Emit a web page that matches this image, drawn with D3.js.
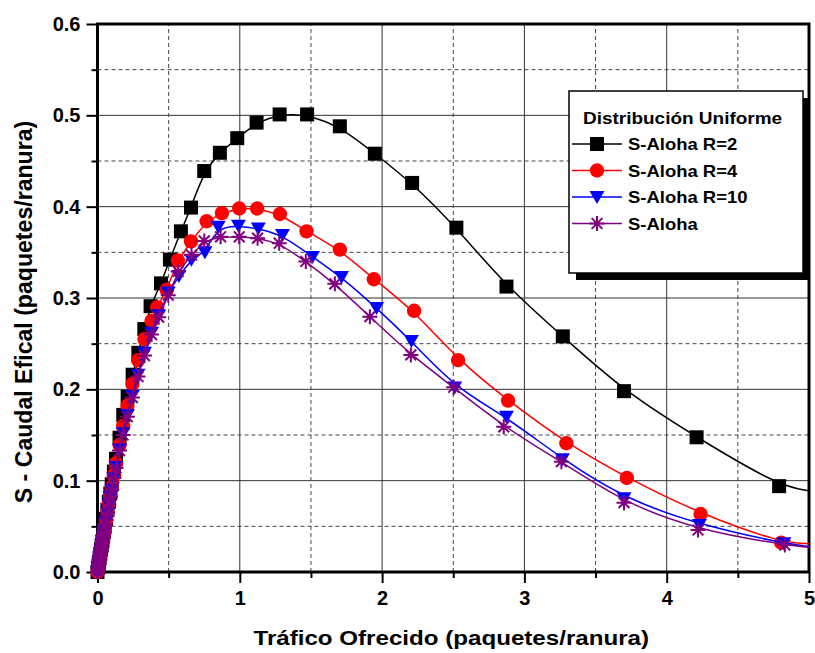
<!DOCTYPE html>
<html>
<head>
<meta charset="utf-8">
<script src="https://cdn.jsdelivr.net/npm/d3@7"></script>
<style>
  body { margin: 0; background: #fff; }
  text { font-family: Arial, "Liberation Sans", sans-serif; font-weight: bold; fill: #000; }
</style>
</head>
<body>
<svg id="chart" width="815" height="653"></svg>
<script>
// data: [G, S]
const serieR2 = [
  [0,0],[0.005,0.005],[0.01,0.01],[0.015,0.015],[0.02,0.02],[0.025,0.025],[0.03,0.029],
  [0.035,0.034],[0.04,0.039],[0.045,0.044],[0.05,0.049],[0.06,0.058],[0.07,0.068],
  [0.08,0.077],[0.09,0.086],[0.1,0.096],[0.115,0.11],[0.13,0.124],[0.155,0.147],
  [0.181,0.172],[0.212,0.192],[0.247,0.216],[0.287,0.24],[0.329,0.266],[0.373,0.291],
  [0.446,0.316],[0.509,0.342],[0.586,0.373],[0.657,0.399],[0.75,0.439],[0.86,0.459],
  [0.982,0.475],[1.118,0.492],[1.28,0.501],[1.473,0.501],[1.703,0.488],[1.949,0.458],
  [2.211,0.426],[2.522,0.377],[2.874,0.3125],[3.27,0.258],[3.7,0.198],[4.21,0.1475],[4.79,0.094]
];
const serieR4 = [
  [0,0],[0.005,0.005],[0.01,0.01],[0.015,0.015],[0.02,0.02],[0.025,0.024],[0.03,0.029],
  [0.035,0.034],[0.04,0.038],[0.045,0.043],[0.05,0.048],[0.06,0.057],[0.07,0.066],
  [0.08,0.075],[0.09,0.084],[0.1,0.093],[0.115,0.106],[0.13,0.119],[0.155,0.139],
  [0.18,0.16],[0.21,0.182],[0.245,0.206],[0.285,0.232],[0.33,0.255],[0.38,0.275],
  [0.42,0.29],[0.486,0.309],[0.565,0.341],[0.657,0.362],[0.767,0.384],[0.874,0.393],
  [0.996,0.398],[1.122,0.398],[1.282,0.392],[1.469,0.373],[1.703,0.353],[1.942,0.3205],
  [2.225,0.286],[2.534,0.232],[2.885,0.1877],[3.295,0.141],[3.72,0.103],[4.238,0.0635],[4.805,0.032]
];
const serieR10 = [
  [0,0],[0.004,0.004],[0.008,0.008],[0.012,0.012],[0.016,0.016],[0.02,0.02],[0.025,0.024],
  [0.03,0.029],[0.035,0.034],[0.04,0.038],[0.045,0.043],[0.05,0.047],[0.06,0.056],
  [0.07,0.065],[0.08,0.074],[0.09,0.082],[0.1,0.09],[0.115,0.103],[0.13,0.115],
  [0.155,0.134],[0.18,0.152],[0.21,0.172],[0.245,0.193],[0.285,0.216],[0.33,0.24],
  [0.38,0.262],[0.43,0.281],[0.497,0.306],[0.572,0.324],[0.66,0.342],[0.755,0.35],
  [0.848,0.378],[0.99,0.379],[1.13,0.376],[1.3,0.369],[1.511,0.345],[1.715,0.323],
  [1.961,0.289],[2.206,0.253],[2.51,0.202],[2.874,0.17],[3.267,0.1234],[3.7,0.0807],
  [4.23,0.0515],[4.823,0.0314]
];
const serieAloha = [
  [0,0],[0.003,0.003],[0.006,0.006],[0.009,0.009],[0.012,0.012],[0.015,0.015],[0.018,0.018],
  [0.021,0.021],[0.024,0.023],[0.027,0.026],[0.03,0.029],[0.034,0.033],[0.038,0.037],
  [0.042,0.04],[0.046,0.044],[0.05,0.048],[0.055,0.052],[0.06,0.057],[0.07,0.065],
  [0.08,0.074],[0.09,0.082],[0.1,0.09],[0.115,0.103],[0.13,0.114],[0.155,0.133],
  [0.18,0.15],[0.21,0.17],[0.245,0.191],[0.285,0.214],[0.33,0.237],[0.38,0.26],
  [0.43,0.279],[0.497,0.303],[0.567,0.329],[0.661,0.347],[0.75,0.3625],[0.865,0.367],
  [0.996,0.367],[1.125,0.3655],[1.277,0.36],[1.464,0.34],[1.668,0.3155],[1.914,0.2796],
  [2.202,0.2377],[2.503,0.2023],[2.855,0.159],[3.26,0.1208],[3.7,0.0759],[4.22,0.046],[4.83,0.0296]
];
// where each fitted curve meets the right border (G = 5)
const curveEnds = [0.089, 0.031, 0.028, 0.027];

const seriesNames = ['S-Aloha R=2', 'S-Aloha R=4', 'S-Aloha R=10', 'S-Aloha'];
const seriesColors = ['#000000', '#ff0000', '#0000ff', '#800080'];
const seriesSymbols = ['square', 'circle', 'triangle', 'star'];
const seriesData = [serieR2, serieR4, serieR10, serieAloha];

const xMajor = [0, 1, 2, 3, 4, 5];
const xMinor = [0.5, 1.5, 2.5, 3.5, 4.5];
const yMajor = [0, 0.1, 0.2, 0.3, 0.4, 0.5, 0.6];
const yMinor = [0.05, 0.15, 0.25, 0.35, 0.45, 0.55];

const svg = d3.select('#chart');
const margin = { left: 97.5, right: 6, top: 24, bottom: 81 };
const W = 815, H = 653;

const x = d3.scaleLinear().domain([0, 5]).range([margin.left, W - margin.right]);
const y = d3.scaleLinear().domain([0, 0.6]).range([H - margin.bottom, margin.top]);

// grid
const grid = svg.append('g');
grid.selectAll('.vmaj').data(xMajor.slice(1, -1)).enter().append('line')
  .attr('x1', d => x(d)).attr('x2', d => x(d))
  .attr('y1', y(0)).attr('y2', y(0.6))
  .attr('stroke', '#333').attr('stroke-width', 1);
grid.selectAll('.hmaj').data(yMajor.slice(1, -1)).enter().append('line')
  .attr('x1', x(0)).attr('x2', x(5))
  .attr('y1', d => y(d)).attr('y2', d => y(d))
  .attr('stroke', '#333').attr('stroke-width', 1);
grid.selectAll('.vmin').data(xMinor).enter().append('line')
  .attr('x1', d => x(d)).attr('x2', d => x(d))
  .attr('y1', y(0)).attr('y2', y(0.6))
  .attr('stroke', '#444').attr('stroke-width', 1).attr('stroke-dasharray', '4,3');
grid.selectAll('.hmin').data(yMinor).enter().append('line')
  .attr('x1', x(0)).attr('x2', x(5))
  .attr('y1', d => y(d)).attr('y2', d => y(d))
  .attr('stroke', '#444').attr('stroke-width', 1).attr('stroke-dasharray', '4,3');

// axes
const xAxis = svg.append('g').attr('transform', `translate(0,${y(0)})`)
  .call(d3.axisBottom(x).tickValues(xMajor).tickFormat(d3.format('d')).tickSize(11).tickPadding(8));
const yAxis = svg.append('g').attr('transform', `translate(${x(0)},0)`)
  .call(d3.axisLeft(y).tickValues(yMajor).tickFormat(d3.format('.1f')).tickSize(11).tickPadding(6));
[xAxis, yAxis].forEach(a => {
  a.select('.domain').remove();
  a.selectAll('line').attr('stroke', '#000').attr('stroke-width', 2);
  a.selectAll('text').attr('font-size', 20).attr('font-family', 'Arial, "Liberation Sans", sans-serif')
    .attr('font-weight', 'bold');
});
svg.append('g').attr('transform', `translate(0,${y(0)})`)
  .call(d3.axisBottom(x).tickValues(xMinor).tickFormat('').tickSize(6))
  .call(g => g.select('.domain').remove())
  .selectAll('line').attr('stroke', '#000').attr('stroke-width', 2);
svg.append('g').attr('transform', `translate(${x(0)},0)`)
  .call(d3.axisLeft(y).tickValues(yMinor).tickFormat('').tickSize(6))
  .call(g => g.select('.domain').remove())
  .selectAll('line').attr('stroke', '#000').attr('stroke-width', 2);

// frame
svg.append('rect')
  .attr('x', x(0)).attr('y', y(0.6))
  .attr('width', x(5) - x(0)).attr('height', y(0) - y(0.6))
  .attr('fill', 'none').attr('stroke', '#000').attr('stroke-width', 3);

// axis titles (the reference type is a little wider than it is tall)
svg.append('text')
  .attr('transform', `translate(${(x(0) + x(5)) / 2 - 2},645) scale(1.15,1)`)
  .attr('text-anchor', 'middle').attr('font-size', 21)
  .text('Tráfico Ofrecido (paquetes/ranura)');
svg.append('text')
  .attr('transform', `translate(32,312) rotate(-90) scale(1.1,1.1)`)
  .attr('text-anchor', 'middle').attr('font-size', 21)
  .text('S - Caudal Efical (paquetes/ranura)');

// markers
function drawSymbol(g, type, color, cx, cy) {
  if (type === 'square') {
    g.append('rect').attr('x', cx - 7).attr('y', cy - 7).attr('width', 14).attr('height', 14)
      .attr('fill', color);
  } else if (type === 'circle') {
    g.append('circle').attr('cx', cx).attr('cy', cy).attr('r', 7.2).attr('fill', color);
  } else if (type === 'triangle') {
    g.append('path').attr('d', `M${cx - 7.5},${cy - 6}L${cx + 7.5},${cy - 6}L${cx},${cy + 7}Z`)
      .attr('fill', color);
  } else {
    const r = 7.5, d = r * 0.72;
    g.append('path')
      .attr('d', `M${cx},${cy - r}L${cx},${cy + r}M${cx - r},${cy}L${cx + r},${cy}` +
        `M${cx - d},${cy - d}L${cx + d},${cy + d}M${cx - d},${cy + d}L${cx + d},${cy - d}`)
      .attr('stroke', color).attr('stroke-width', 2).attr('fill', 'none');
  }
}

const line = d3.line().x(d => x(d[0])).y(d => y(d[1])).curve(d3.curveBasis);
const plot = svg.append('g');
seriesData.forEach((data, i) => {
  const g = plot.append('g');
  g.append('path')
    .datum(data.concat([[5, curveEnds[i]]]))
    .attr('d', line)
    .attr('fill', 'none').attr('stroke', seriesColors[i]).attr('stroke-width', 1.5);
  data.forEach(p => drawSymbol(g, seriesSymbols[i], seriesColors[i], x(p[0]), y(p[1])));
});

// legend
const lg = svg.append('g').attr('transform', 'translate(569,91)');
lg.append('rect').attr('x', 7).attr('y', 7).attr('width', 234).attr('height', 182).attr('fill', '#000');
lg.append('rect').attr('width', 234).attr('height', 182).attr('fill', '#fff')
  .attr('stroke', '#000').attr('stroke-width', 1.5);
lg.append('text').attr('transform', 'translate(14,33) scale(1.15,1)').attr('font-size', 16.5)
  .text('Distribución Uniforme');
seriesNames.forEach((name, i) => {
  const cy = 53 + i * 26.5;
  lg.append('line').attr('x1', 3).attr('x2', 53).attr('y1', cy).attr('y2', cy)
    .attr('stroke', seriesColors[i]).attr('stroke-width', 1.5);
  drawSymbol(lg, seriesSymbols[i], seriesColors[i], 28, cy);
  lg.append('text').attr('transform', `translate(59,${cy + 6}) scale(1.12,1)`).attr('font-size', 16.5)
    .text(name);
});
</script>
</body>
</html>
